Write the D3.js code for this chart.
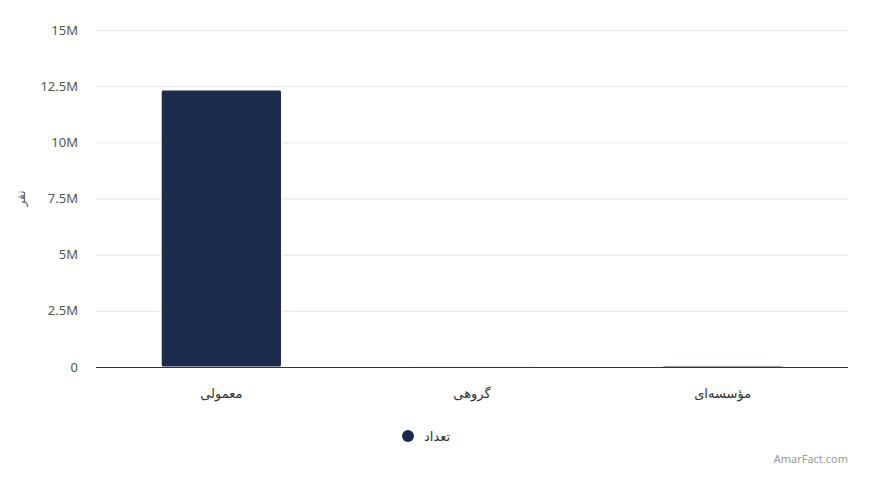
<!DOCTYPE html>
<meta charset="utf-8">
<script src="https://d3js.org/d3.v7.min.js"></script>
<style>
  body { margin: 0; background: #fff; }
  text { font-family: "Noto Sans", "DejaVu Sans", sans-serif; }
</style>
<div id="chart"></div>
<script>
  // data
  var categories = ["معمولی", "گروهی", "مؤسسه‌ای"];
  var values = [12330000, 12000, 60000];
  var yTicks = [0, 2500000, 5000000, 7500000, 10000000, 12500000, 15000000];
  var yTickLabels = ["0", "2.5M", "5M", "7.5M", "10M", "12.5M", "15M"];
  var seriesName = "تعداد";
  var yTitle = "نفر";

  var W = 892, H = 493;
  var margin = {top: 30, right: 44, bottom: 126, left: 96},
      width = W - margin.left - margin.right,
      height = H - margin.top - margin.bottom;

  var svg = d3.select("#chart").append("svg")
      .attr("width", W).attr("height", H);
  var g = svg.append("g")
      .attr("transform", "translate(" + margin.left + "," + margin.top + ")");

  var x = d3.scaleBand().domain(categories).range([0, width]).paddingInner(0.52).paddingOuter(0.26);
  var y = d3.scaleLinear().domain([0, 15000000]).range([height, 0]);

  // grid
  g.append("g").selectAll("line").data(yTicks).enter().append("line")
      .attr("x1", 0).attr("x2", width)
      .attr("y1", function(d){ return y(d) + 0.5; })
      .attr("y2", function(d){ return y(d) + 0.5; })
      .attr("stroke", "#e6e6e6");

  // y labels
  g.append("g").selectAll("text").data(yTicks).enter().append("text")
      .attr("x", -18)
      .attr("y", function(d){ return y(d); })
      .attr("dy", "0.35em")
      .attr("text-anchor", "end")
      .attr("font-size", 13)
      .attr("fill", "#555")
      .text(function(d, i){ return yTickLabels[i]; });

  // bars
  g.append("g").selectAll("rect").data(values).enter().append("rect")
      .attr("x", function(d, i){ return x(categories[i]); })
      .attr("y", function(d){ return y(d); })
      .attr("width", x.bandwidth())
      .attr("height", function(d){ return height - y(d); })
      .attr("rx", 2)
      .attr("fill", "#1c2a4b")
      .attr("stroke", "#fff")
      .attr("stroke-width", 1);

  // x axis line
  g.append("line")
      .attr("x1", 0).attr("x2", width)
      .attr("y1", height + 0.5).attr("y2", height + 0.5)
      .attr("stroke", "#333");

  // x labels
  g.append("g").selectAll("text").data(categories).enter().append("text")
      .attr("x", function(d){ return x(d) + x.bandwidth() / 2; })
      .attr("y", height + 31)
      .attr("text-anchor", "middle")
      .attr("font-size", 13)
      .attr("fill", "#333")
      .text(function(d){ return d; });

  // y title
  svg.append("text")
      .attr("transform", "translate(25," + (margin.top + height / 2) + ") rotate(-90)")
      .attr("text-anchor", "middle")
      .attr("font-size", 12)
      .attr("fill", "#555")
      .text(yTitle);

  // legend
  svg.append("circle").attr("cx", 408).attr("cy", 436).attr("r", 6).attr("fill", "#1c2a4b");
  svg.append("text")
      .attr("x", 424).attr("y", 436).attr("dy", "0.35em")
      .attr("font-size", 13).attr("fill", "#333")
      .text(seriesName);

  // credit
  svg.append("text")
      .attr("x", 848).attr("y", 463)
      .attr("text-anchor", "end")
      .attr("font-size", 11).attr("fill", "#999")
      .text("AmarFact.com");
</script>
